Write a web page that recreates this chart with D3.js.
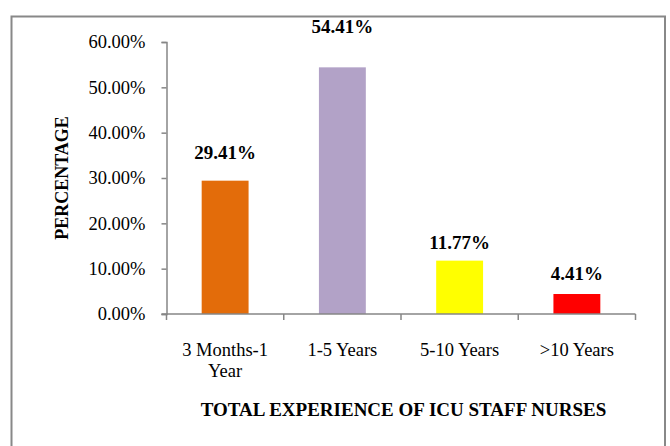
<!DOCTYPE html>
<html><head><meta charset="utf-8">
<script src="https://cdn.jsdelivr.net/npm/d3@7"></script>
<style>body{margin:0;background:#fff}svg{display:block}</style>
</head><body><svg id="c" width="670" height="446"></svg>
<script>
const categories = ["3 Months-1 Year", "1-5 Years", "5-10 Years", ">10 Years"];
const values = [29.41, 54.41, 11.77, 4.41];
const valueLabels = ["29.41%", "54.41%", "11.77%", "4.41%"];
const yTicks = [0, 10, 20, 30, 40, 50, 60];
const colors = ["#E36C0A", "#B2A2C7", "#FFFF00", "#FF0000"];
const yTitle = "PERCENTAGE";
const xTitle = "TOTAL EXPERIENCE OF ICU STAFF NURSES";

const svg = d3.select("#c");
const font = "'Liberation Serif','Times New Roman',serif";
svg.append("rect").attr("x",11.5).attr("y",16.5).attr("width",653.5).attr("height",440)
  .attr("fill","#fff").attr("stroke","#888").attr("stroke-width",2);

const m = {l:166.5, r:635.5, t:42, b:314};
const x = d3.scaleBand().domain(categories).range([m.l, m.r]).paddingInner(0.6).paddingOuter(0.3);
const y = d3.scaleLinear().domain([0,60]).range([m.b, m.t]);

const axisColor = "#868686";
const ya = svg.append("g").attr("transform",`translate(${m.l},0)`)
  .call(d3.axisLeft(y).tickValues(yTicks).tickSize(5).tickFormat(d=>d.toFixed(2)+"%"));
ya.select(".domain").attr("stroke",axisColor).attr("stroke-width",1.5);
ya.selectAll(".tick line").attr("stroke",axisColor).attr("stroke-width",1.5);
ya.selectAll(".tick text").attr("font-family",font).attr("font-size",18.5).attr("fill","#000").attr("x",-21);

// bars
svg.selectAll(".bar").data(values).enter().append("rect")
  .attr("x",(d,i)=>x(categories[i])).attr("width",x.bandwidth())
  .attr("y",d=>y(d)).attr("height",d=>y(0)-y(d)).attr("fill",(d,i)=>colors[i]);

// x axis
const xa = svg.append("g").attr("transform",`translate(0,${m.b})`);
xa.append("line").attr("x1",m.l-5).attr("x2",m.r).attr("stroke",axisColor).attr("stroke-width",1.5);
const bounds = d3.range(categories.length+1).map(i=>m.l + i*(m.r-m.l)/categories.length);
xa.selectAll(".xt").data(bounds).enter().append("line")
  .attr("x1",d=>d).attr("x2",d=>d).attr("y1",0).attr("y2",6).attr("stroke",axisColor).attr("stroke-width",1.5);

const cx = (i)=> x(categories[i]) + x.bandwidth()/2;
const catLines = [["3 Months-1","Year"],["1-5 Years"],["5-10 Years"],[">10 Years"]];
catLines.forEach((lines,i)=>{
  const t = svg.append("text").attr("font-family",font).attr("font-size",18.5).attr("text-anchor","middle");
  lines.forEach((ln,j)=>t.append("tspan").attr("x",cx(i)).attr("y",356+j*20.5).text(ln));
});

// value labels (offset above bar top)
const labelDy = [22, 34, 12, 14];
svg.selectAll(".vl").data(values).enter().append("text")
  .attr("x",(d,i)=>cx(i)).attr("y",(d,i)=>y(d)-labelDy[i])
  .attr("text-anchor","middle").attr("font-family",font).attr("font-size",19).attr("font-weight","bold")
  .text((d,i)=>valueLabels[i]);

svg.append("text").attr("transform","translate(68,178) rotate(-90)").attr("text-anchor","middle")
  .attr("font-family",font).attr("font-size",18).attr("font-weight","bold").text(yTitle);
svg.append("text").attr("x",403.5).attr("y",416).attr("text-anchor","middle")
  .attr("font-family",font).attr("font-size",19).attr("font-weight","bold").text(xTitle);
</script></body></html>
